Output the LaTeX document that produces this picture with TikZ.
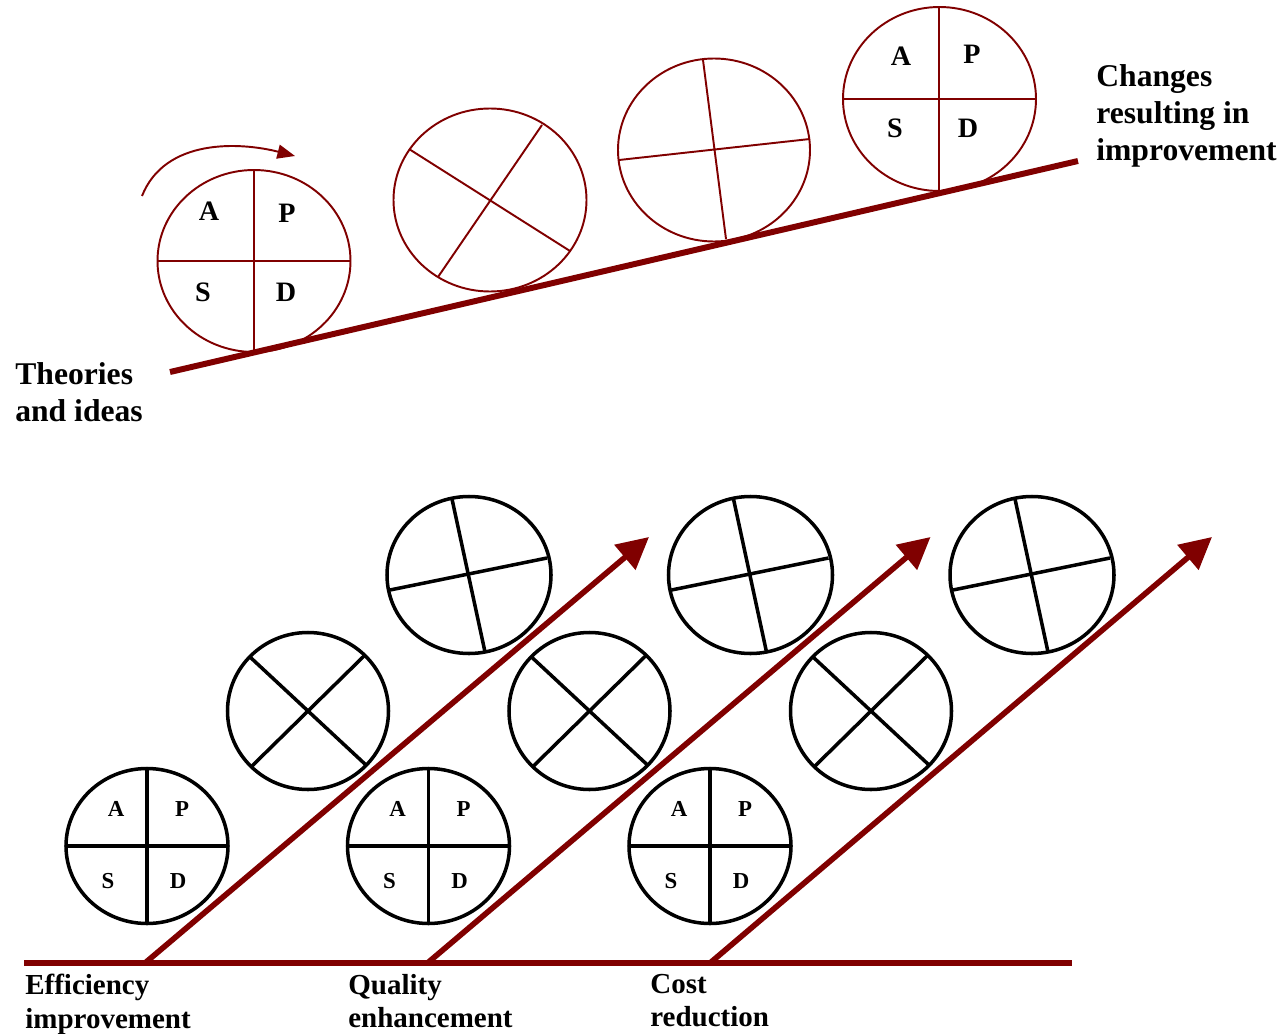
\documentclass[tikz,border=0pt]{standalone}
\usepackage{fontspec}
\setmainfont{Liberation Serif}
\usetikzlibrary{arrows.meta,calc}
\definecolor{maroon}{HTML}{800000}

\begin{document}
\begin{tikzpicture}[
    x=0.02cm, y=-0.02cm,
    redrim/.style={draw=maroon, line width=1.1pt},
    blackrim/.style={draw=black, line width=2pt},
    ramp/.style={draw=maroon, line width=3.4pt},
    rise/.style={draw=maroon, line width=3.2pt, -{Triangle[length=18pt, width=18pt]}},
    bigletter/.style={font=\bfseries\fontsize{16pt}{16pt}\selectfont, inner sep=0pt},
    smallletter/.style={font=\bfseries\fontsize{13pt}{13pt}\selectfont, inner sep=0pt},
    caption/.style={font=\bfseries\fontsize{18pt}{21pt}\selectfont, align=left, anchor=north west, inner sep=0pt},
    smallcaption/.style={font=\bfseries\fontsize{16.5pt}{19pt}\selectfont, align=left, anchor=north west, inner sep=0pt}
]
\useasboundingbox (0,0) rectangle (1285,1034);

% upper part: the wheel rolling up the slope
\coordinate (rampstart) at (170,372);
\coordinate (rampend) at (1078,161);
\draw[ramp] (rampstart) -- (rampend);

\coordinate (w1) at (254,261);
\draw[redrim] (w1) ellipse [x radius=96.5, y radius=91];
\draw[redrim] (158,261) -- (351,261) (254,170) -- (254,352);
\node[bigletter] (w1a) at (209,211) {A};
\node[bigletter] (w1p) at (287,213) {P};
\node[bigletter] (w1s) at (203,292) {S};
\node[bigletter] (w1d) at (286,292) {D};

\coordinate (turnstart) at (142,196);
\coordinate (turnend) at (295,156);
\draw[redrim, -{Triangle[length=10pt, width=8pt]}] (turnstart) .. controls (165,138) and (240,142) .. (turnend);

\coordinate (w2) at (490,200);
\draw[redrim] (w2) ellipse [x radius=96.5, y radius=91.5];
\draw[redrim] (409,149) -- (570,251) (542,125) -- (438,277);

\coordinate (w3) at (714,150);
\draw[redrim] (w3) ellipse [x radius=96, y radius=91.5];
\draw[redrim] (703,60) -- (726,239) (619,160) -- (810,139);

\coordinate (w4) at (939.5,99);
\draw[redrim] (w4) ellipse [x radius=96.5, y radius=92];
\draw[redrim] (843,99) -- (1036,99) (939,7) -- (939,191);
\node[bigletter] (w4a) at (901,56) {A};
\node[bigletter] (w4p) at (972,54) {P};
\node[bigletter] (w4s) at (895,128) {S};
\node[bigletter] (w4d) at (968,128) {D};

\node[caption] (theories) at (15,362) {Theories\\and ideas};
\node[caption] (changes) at (1096,64) {Changes\\resulting in\\improvement};

% lower part: three staircases of wheels
\coordinate (floorleft) at (24,963);
\coordinate (floorright) at (1072,963);
\draw[draw=maroon, line width=3.8pt] (floorleft) -- (floorright);

\foreach \k in {0,1,2} {
  % first step
  \coordinate (s\k) at (147+\k*281.5,846);
  \draw[blackrim] (s\k) ellipse [x radius=81, y radius=77.5];
  \draw[blackrim] (s\k) ++(-81,0) -- ++(162,0);
  \draw[blackrim] (s\k) ++(0,-77.5) -- ++(0,155);
  \node[smallletter] at ($(s\k)+(-31,-37)$) {A};
  \node[smallletter] at ($(s\k)+(35,-37)$) {P};
  \node[smallletter] at ($(s\k)+(-39,35)$) {S};
  \node[smallletter] at ($(s\k)+(31,35)$) {D};
  % second step
  \coordinate (m\k) at (308+\k*281.5,711);
  \draw[blackrim] (m\k) ellipse [x radius=80.5, y radius=78.5];
  \draw[blackrim] (m\k) ++(-58,-54) -- ++(116,108);
  \draw[blackrim] (m\k) ++(56,-55) -- ++(-112,110);
  % third step
  \coordinate (h\k) at (469+\k*281.5,575);
  \draw[blackrim] (h\k) ellipse [x radius=82, y radius=78.5];
  \draw[blackrim] (h\k) ++(-17,-76) -- ++(33,153);
  \draw[blackrim] (h\k) ++(-79,15) -- ++(157,-32);
  % the rising arrow
  \coordinate (foot\k) at (145+\k*282.5,963);
  \coordinate (tip\k) at (649+\k*281.5,537);
  \draw[rise] (foot\k) -- (tip\k);
}

\node[smallcaption] (efficiency) at (25,974) {Efficiency\\improvement};
\node[smallcaption] (quality) at (348,974) {Quality\\enhancement};
\node[smallcaption] (cost) at (650,974) {Cost\\reduction};
\end{tikzpicture}
\end{document}
